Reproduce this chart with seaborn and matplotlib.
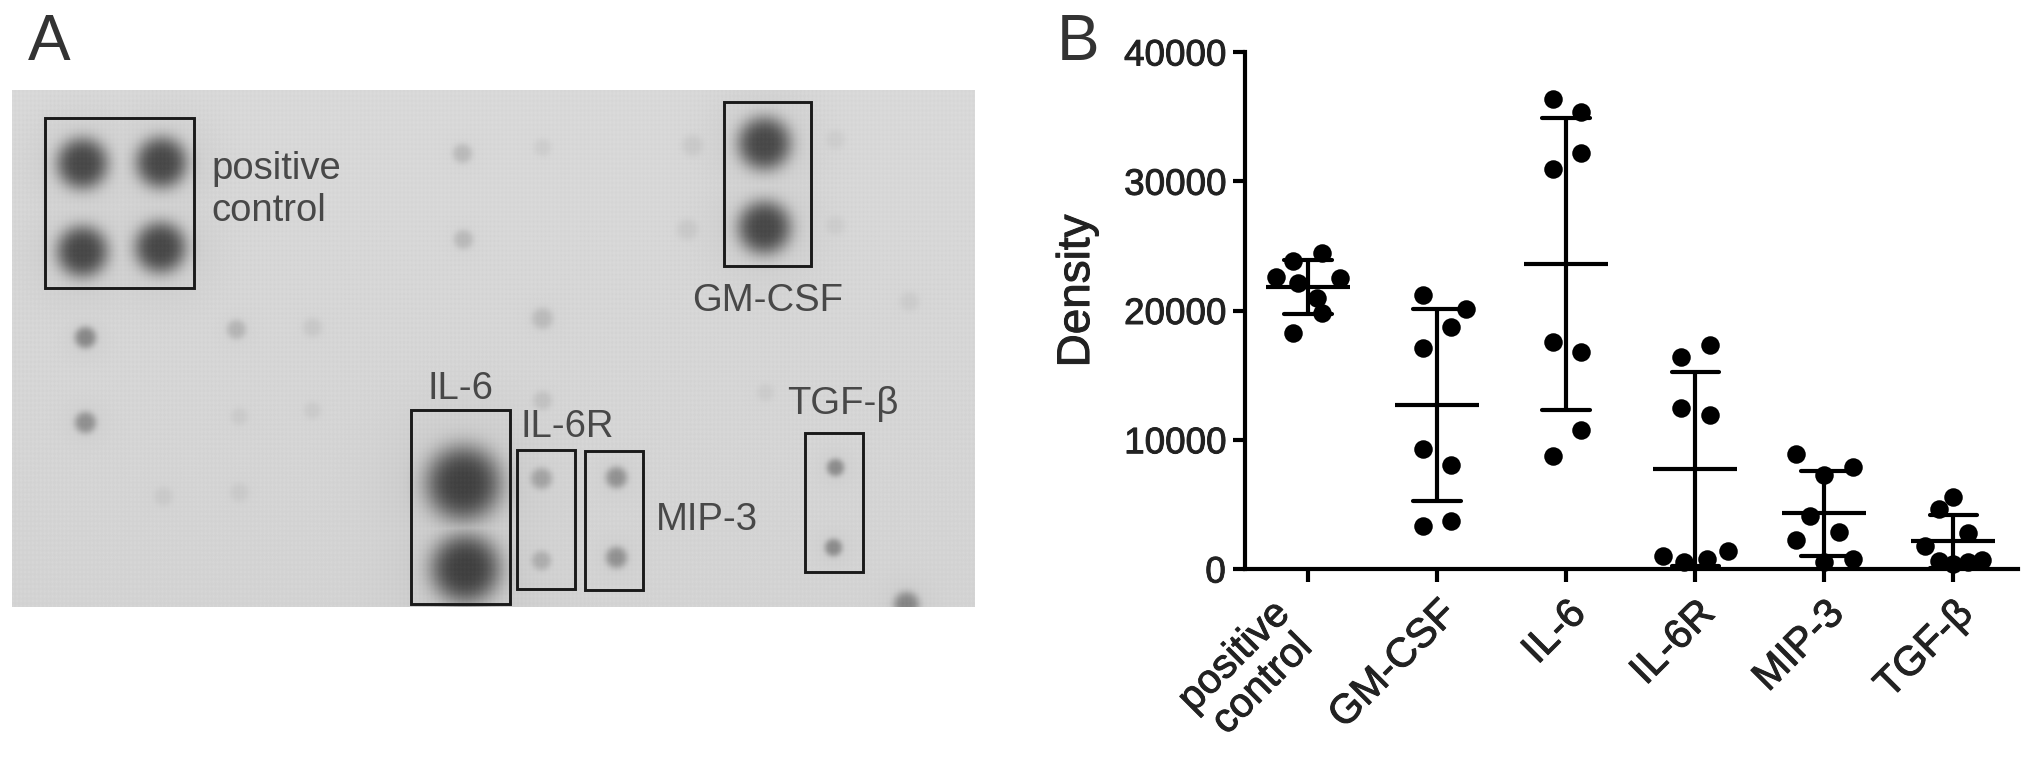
import numpy as np
import pandas as pd
from matplotlib import pyplot as plt
from matplotlib import patheffects, transforms
from matplotlib.patches import Rectangle
import seaborn as sns

# panel B values
targets = ["positive\ncontrol", "GM-CSF", "IL-6", "IL-6R", "MIP-3", "TGF-β"]
positive_control = [24480, 23810, 22570, 22150, 22490, 20940, 19830, 18250]
gm_csf = [21190, 20150, 18730, 17090, 9250, 8020, 3730, 3360]
il_6 = [36380, 35370, 32160, 30970, 17540, 16790, 10750, 8770]
il_6r = [17310, 16420, 12460, 11940, 1420, 980, 775, 520]
mip_3 = [8915, 7880, 7235, 4135, 2890, 2270, 775, 520]
tgf_b = [5600, 4650, 2765, 1810, 650, 520, 720, 390]
series = [positive_control, gm_csf, il_6, il_6r, mip_3, tgf_b]

# sideways spread of each dot in the column, category widths
spread_control = [0.11, -0.12, -0.25, -0.08, 0.25, 0.07, 0.11, -0.12]
spread_gm = [-0.11, 0.22, 0.11, -0.11, -0.11, 0.11, 0.11, -0.11]
spread_il6 = [-0.1, 0.11, 0.11, -0.1, -0.1, 0.11, 0.11, -0.1]
spread_il6r = [0.11, -0.11, -0.11, 0.11, 0.25, -0.25, 0.09, -0.09]
spread_mip = [-0.22, 0.22, 0.0, -0.11, 0.11, -0.22, 0.22, 0.0]
spread_tgf = [0.0, -0.11, 0.11, -0.22, -0.11, 0.11, 0.22, 0.0]
spreads = [spread_control, spread_gm, spread_il6, spread_il6r, spread_mip, spread_tgf]

# panel A blot spots, in reference pixels
spot_x = [82, 161, 82, 160, 764, 764, 463, 465, 541, 541, 616, 616, 835, 833,
          85, 85, 236, 312, 462, 463, 542, 692, 687, 542, 542, 239, 312, 163, 239,
          835, 835, 909, 765, 906]
spot_y = [163, 162, 251, 247, 143, 227, 483, 568, 478, 560, 477, 557, 467, 547,
          337, 422, 329, 327, 153, 239, 147, 145, 229, 318, 400, 416, 410, 496, 492,
          139, 225, 301, 392, 604]
spot_r = [26, 26, 26, 26, 27, 27, 38, 35, 11, 10, 11, 11, 9, 9,
          11, 11, 10, 10, 10, 10, 9, 11, 11, 11, 10, 9, 9, 10, 10,
          10, 10, 10, 9, 13]
spot_dark = [128, 128, 128, 128, 128, 128, 132, 132, 45, 35, 60, 60, 65, 65,
             70, 62, 30, 13, 27, 27, 10, 13, 13, 25, 18, 10, 10, 10, 10,
             9, 9, 10, 9, 70]

box_labels = ["positive\ncontrol", "GM-CSF", "IL-6", "IL-6R", "MIP-3", "TGF-β"]
box_left = [45, 724, 411, 517, 585, 805]
box_top = [118, 102, 410, 450, 451, 433]
box_right = [194, 811, 510, 575, 643, 863]
box_bottom = [288, 266, 604, 589, 590, 572]
label_x = [211, 768, 460, 567, 707, 843]
label_y = [190, 301, 389, 427, 520, 404]

sns.set_theme(style="white")
plt.rcParams["font.family"] = ["Liberation Sans", "DejaVu Sans"]

W, H = 2031, 757
fig = plt.figure(figsize=(W / 100, H / 100), dpi=100)

# panel A
ax_a = fig.add_axes([0, 0, 1, 1])
ax_a.axis("off")

xx, yy = np.meshgrid(np.arange(12, 975), np.arange(90, 607))
spots = np.zeros(xx.shape)
halo = np.zeros(xx.shape)
for sx, sy, sr, sd in zip(spot_x, spot_y, spot_r, spot_dark):
    dist = np.hypot(xx - sx, yy - sy) / sr
    spots = np.maximum(spots, sd * np.exp(-dist ** 3.5))
    halo = np.maximum(halo, 0.11 * sd * np.exp(-(dist / 1.9) ** 2))
blot = 216 - 5 * (yy - 90) / 517 - spots - halo
blot += 1.5 * np.sin(xx * 1.6) + 1.2 * np.sin(yy * 1.3)  # membrane weave
ax_a.imshow(blot, cmap="gray", vmin=0, vmax=255, extent=(12, 975, 607, 90),
            aspect="auto", interpolation="bilinear")
ax_a.set_xlim(0, W)
ax_a.set_ylim(H, 0)

for l, t, r, b in zip(box_left, box_top, box_right, box_bottom):
    ax_a.add_patch(Rectangle((l, t), r - l, b - t, fill=False, ec="#1a1a1a", lw=2.1))
for txt, lx, ly in zip(box_labels, label_x, label_y):
    ax_a.text(lx, ly, txt, fontsize=27.5, color="#484848", va="center",
              ha="left" if txt == "positive\ncontrol" else "center", linespacing=1.21)
ax_a.text(28, 43, "A", fontsize=46, color="#333333", va="center", ha="left")
ax_a.text(1057, 43, "B", fontsize=46, color="#333333", va="center", ha="left")

# panel B
ax_b = fig.add_axes([1245 / W, 1 - 569 / H, (2018 - 1245) / W, (569 - 52) / H])
df = pd.DataFrame({
    "pos": np.repeat(np.arange(len(targets)), [len(s) for s in series]),
    "density": np.concatenate(series),
    "spread": np.concatenate(spreads),
})
df["x"] = df["pos"] + df["spread"]

sns.pointplot(data=df, x="pos", y="density", native_scale=True, estimator="mean",
              errorbar="sd", capsize=0.37, linestyle="none", marker="_", markersize=60,
              markeredgewidth=3, color="black", err_kws={"linewidth": 3}, ax=ax_b)
sns.scatterplot(data=df, x="x", y="density", color="black", s=178, linewidth=0,
                clip_on=False, zorder=5, ax=ax_b)

ax_b.set_xlim(-0.49, 5.5)
ax_b.set_ylim(0, 40000)
ax_b.set_yticks([0, 10000, 20000, 30000, 40000])
ax_b.set_xticks(range(len(targets)))
ax_b.set_xticklabels(targets, rotation=45, ha="right", rotation_mode="anchor",
                     ma="center", linespacing=1.05, fontsize=29.5)
ax_b.set_xlabel("")
ax_b.set_ylabel("Density", fontsize=33, color="#222222", labelpad=18, y=0.538)
ax_b.tick_params(axis="y", labelsize=26.5, pad=5)
ax_b.tick_params(axis="x", pad=9)
ax_b.tick_params(axis="both", direction="out", length=9, width=3, color="black",
                 labelcolor="#222222", bottom=True, left=True)
sns.despine(ax=ax_b)
for side in ["left", "bottom"]:
    ax_b.spines[side].set_linewidth(3)
    ax_b.spines[side].set_color("black")

# the blurred original reads a bit heavier than regular weight
heavier = [patheffects.withStroke(linewidth=0.7, foreground="#222222")]
for label in ax_b.get_xticklabels() + ax_b.get_yticklabels() + [ax_b.yaxis.label]:
    label.set_path_effects(heavier)

# two-line label sits further left than the others
first = ax_b.get_xticklabels()[0]
first.set_transform(first.get_transform() + transforms.ScaledTranslation(-0.38, 0, fig.dpi_scale_trans))

fig.savefig("out.png", dpi=100)
